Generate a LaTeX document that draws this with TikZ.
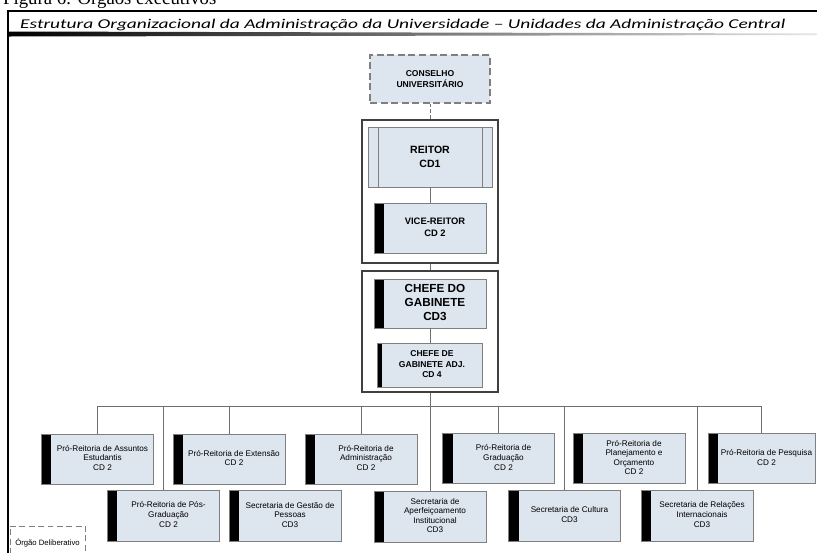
\documentclass[tikz,border=0pt]{standalone}
\usepackage{fontspec}
\newfontfamily\arialfont{Liberation Sans}
\newfontfamily\calibrifont{Carlito}
\newfontfamily\timesfont{Liberation Serif}
\definecolor{boxfill}{HTML}{DDE5EF}
\definecolor{boxline}{HTML}{7F7F7F}
\definecolor{connline}{HTML}{6F6F6F}
% text block pushed right of the black bar
\newcommand{\bartext}[2]{\begin{tabular}{@{\hspace{#1}}c@{}}#2\end{tabular}}
\tikzset{
  unit/.style={draw=boxline, fill=boxfill, line width=0.7pt, inner sep=0pt,
    minimum width=3.36cm, minimum height=1.5cm,
    font=\arialfont\fontsize{7}{8.2}\selectfont,
    path picture={\fill[black] (path picture bounding box.north west)
      rectangle ([xshift=0.3cm]path picture bounding box.south west);}},
  group/.style={draw=black!75, line width=1.3pt, inner sep=0pt},
  conn/.style={draw=connline, line width=0.6pt},
}
\begin{document}
\begin{tikzpicture}[x=0.03cm, y=-0.03cm]
  \useasboundingbox (0,0) rectangle (817,552);
  \fill[white] (0,0) rectangle (817,552);

  % caption above the page, cut by the top edge
  \node[anchor=base west, inner sep=0pt, font=\timesfont\fontsize{16}{19}\selectfont] (caption) at (3,4) {Figura 6: Órgãos executivos};
  \draw[line width=1.6pt] (8,570) -- (8,11) -- (840,11); % page frame
  \node[anchor=base west, inner sep=0pt, font=\calibrifont\itshape\fontsize{11.5}{14}\selectfont] (title) at (20,28) {\resizebox{22.95cm}{\height}{Estrutura Organizacional da Administração da Universidade – Unidades da Administração Central}};
  \shade[left color=black, right color=black!10] (9,31.5) -- (817,33.5) -- (817,35) -- (9,36.5) -- cycle; % rule under title

  % Conselho and Reitoria
  \node[draw=boxline, fill=boxfill, dashed, dash pattern=on 6pt off 3pt, line width=1pt,
    minimum width=3.6cm, minimum height=1.44cm, align=center,
    font=\arialfont\bfseries\fontsize{7.3}{9.4}\selectfont] (conselho) at (430,79) {CONSELHO\\UNIVERSITÁRIO};
  \node[group, minimum width=4.08cm, minimum height=4.29cm] (grpA) at (430,191.5) {};
  \node[draw=boxline, fill=boxfill, line width=0.7pt, minimum width=3.72cm, minimum height=1.8cm, align=center,
    font=\arialfont\bfseries\fontsize{9}{11.4}\selectfont,
    path picture={
      \draw[boxline, line width=0.7pt] ([xshift=0.3cm]path picture bounding box.north west) -- ([xshift=0.3cm]path picture bounding box.south west);
      \draw[boxline, line width=0.7pt] ([xshift=-0.3cm]path picture bounding box.north east) -- ([xshift=-0.3cm]path picture bounding box.south east);}] (reitor) at (430,157) {REITOR\\CD1};
  \node[unit, font=\arialfont\bfseries\fontsize{8}{10}\selectfont] (vice) at (430,228) {\bartext{0.3cm}{VICE-REITOR\\CD 2}};

  % Gabinete
  \node[group, minimum width=4.08cm, minimum height=3.63cm] (grpB) at (430,331.5) {};
  \node[unit, minimum height=1.47cm, font=\arialfont\bfseries\fontsize{10}{12}\selectfont] (chefe) at (430,303.5) {\bartext{0.3cm}{CHEFE DO\\GABINETE\\CD3}};
  \node[unit, minimum width=3.15cm, minimum height=1.32cm, font=\arialfont\bfseries\fontsize{7.3}{9}\selectfont,
    path picture={\fill[black] (path picture bounding box.north west)
      rectangle ([xshift=0.12cm]path picture bounding box.south west);}] (adj) at (430,365) {\bartext{0.12cm}{CHEFE DE\\GABINETE ADJ.\\CD 4}};

  \draw[conn, dashed, dash pattern=on 3pt off 2pt] (conselho) -- (grpA);
  \draw[conn] (reitor) -- (vice);
  \draw[conn] (grpA) -- (grpB);
  \draw[conn] (chefe) -- (adj);

  % Pro-Reitorias, first row
  \node[unit] (assuntos) at (97.5,459) {\bartext{0.3cm}{Pró-Reitoria de Assuntos\\Estudantis\\CD 2}};
  \node[unit] (extensao) at (229,459) {\bartext{0.3cm}{Pró-Reitoria de Extensão\\CD 2}};
  \node[unit] (administracao) at (361,459) {\bartext{0.3cm}{Pró-Reitoria de\\Administração\\CD 2}};
  \node[unit] (graduacao) at (498.5,458.5) {\bartext{0.3cm}{Pró-Reitoria de\\Graduação\\CD 2}};
  \node[unit] (planejamento) at (629,458.5) {\bartext{0.3cm}{Pró-Reitoria de\\Planejamento e\\Orçamento\\CD 2}};
  \node[unit, minimum width=3.21cm] (pesquisa) at (761.5,458.5) {\bartext{0.3cm}{Pró-Reitoria de Pesquisa\\CD 2}};

  % Pro-Reitoria and Secretarias, second row
  \node[unit, minimum height=1.53cm] (posgrad) at (163.5,515.5) {\bartext{0.3cm}{Pró-Reitoria de Pós-\\Graduação\\CD 2}};
  \node[unit, minimum height=1.53cm] (gestao) at (285,516) {\bartext{0.3cm}{Secretaria de Gestão de\\Pessoas\\CD3}};
  \node[unit, minimum height=1.53cm] (aperfeicoamento) at (430,516.5) {\bartext{0.3cm}{Secretaria de\\Aperfeiçoamento\\Institucional\\CD3}};
  \node[unit, minimum height=1.53cm] (cultura) at (564.5,515.5) {\bartext{0.3cm}{Secretaria de Cultura\\CD3}};
  \node[unit, minimum height=1.53cm] (relacoes) at (697,515.5) {\bartext{0.3cm}{Secretaria de Relações\\Internacionais\\CD3}};

  % bus line and drops
  \coordinate (bus) at (430,406);
  \draw[conn] (grpB) -- (bus);
  \draw[conn] (bus -| assuntos.north) -- (bus -| pesquisa.north);
  \foreach \n in {assuntos,posgrad,extensao,administracao,aperfeicoamento,graduacao,cultura,relacoes,pesquisa}
    \draw[conn] (bus -| \n.north) -- (\n.north);

  % legend
  \node[draw=boxline, dashed, dash pattern=on 5pt off 3pt, line width=0.8pt, minimum width=2.25cm, minimum height=1.02cm,
    font=\arialfont\fontsize{6.6}{8}\selectfont] (legend) at (47.5,543) {Órgão Deliberativo};
\end{tikzpicture}
\end{document}
